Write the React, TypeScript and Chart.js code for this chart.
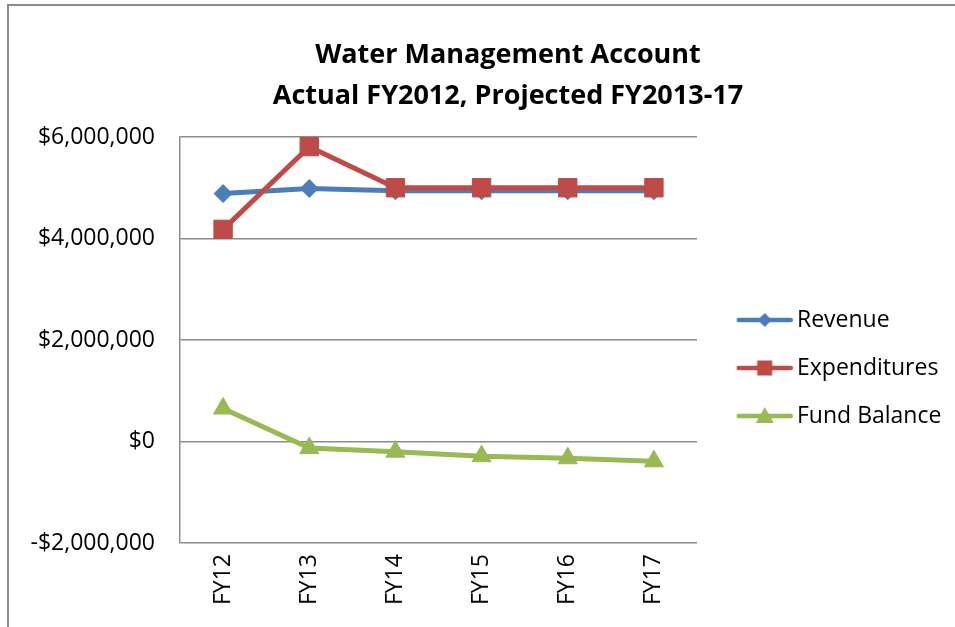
import React, { useEffect, useRef } from 'react';
import { Chart, registerables } from 'chart.js';

Chart.register(...registerables);

const categories = ['FY12', 'FY13', 'FY14', 'FY15', 'FY16', 'FY17'];
const revenue = [4885000, 4985000, 4940000, 4940000, 4940000, 4940000];
const expenditures = [4180000, 5810000, 5000000, 5000000, 5000000, 5000000];
const fundBalance = [650000, -130000, -200000, -290000, -330000, -390000];
const seriesNames = ['Revenue', 'Expenditures', 'Fund Balance'];
const seriesColors = ['#4A7EBB', '#BE4B48', '#98B954'];
const seriesMarkers = ['rectRot', 'rect', 'triangle'];
const titleLines = ['Water Management Account', 'Actual FY2012, Projected FY2013-17'];
const yMin = -2000000;
const yMax = 6000000;
const yStep = 2000000;

const FONT = '"Open Sans", "Liberation Sans", sans-serif';
const CW = 946;
const CH = 621;
const AREA = { left: 171, top: 131, right: 688, bottom: 537 };
const LEG_FONT = 23;
const LEG_PAD = 25;

function fmtMoney(v: number): string {
  const s = Math.abs(v).toLocaleString('en-US');
  return (v < 0 ? '-$' : '$') + s;
}

function makeIcon(color: string, style: string): HTMLCanvasElement {
  const c = document.createElement('canvas');
  c.width = 80;
  c.height = 24;
  const g = c.getContext('2d')!;
  g.strokeStyle = color;
  g.lineWidth = 4.5;
  g.lineCap = 'round';
  g.beginPath();
  g.moveTo(25, 12);
  g.lineTo(77, 12);
  g.stroke();
  g.fillStyle = color;
  const m = 51;
  const cy = 12;
  g.beginPath();
  if (style === 'rectRot') {
    g.moveTo(m, cy - 7);
    g.lineTo(m + 7, cy);
    g.lineTo(m, cy + 7);
    g.lineTo(m - 7, cy);
  } else if (style === 'rect') {
    g.rect(m - 7.5, cy - 7.5, 15, 15);
  } else {
    g.moveTo(m, cy - 9);
    g.lineTo(m + 9, cy + 7);
    g.lineTo(m - 9, cy + 7);
  }
  g.closePath();
  g.fill();
  return c;
}

const titlePlugin = {
  id: 'customTitle',
  afterDraw(chart: any) {
    const ctx = chart.ctx;
    ctx.save();
    ctx.fillStyle = '#000';
    ctx.font = `bold 27px ${FONT}`;
    ctx.textAlign = 'center';
    ctx.textBaseline = 'middle';
    titleLines.forEach((line, i) => {
      ctx.fillText(line, 499, 49 + i * 41);
    });
    ctx.restore();
  },
};

export default function App() {
  const ref = useRef<HTMLCanvasElement | null>(null);

  useEffect(() => {
    if (!ref.current) return;
    const mctx = document.createElement('canvas').getContext('2d')!;
    mctx.font = `${LEG_FONT}px ${FONT}`;
    const maxText = Math.max(...seriesNames.map((n) => mctx.measureText(n).width));
    const boxW = 100 - LEG_FONT / 2 - LEG_PAD;
    const legendW = LEG_PAD + boxW + LEG_FONT / 2 + maxText + 10;
    const padRight = Math.max(0, CW - AREA.right - legendW);
    const icons = seriesColors.map((c, i) => makeIcon(c, seriesMarkers[i]));
    const radii = [9, 13, 11];
    const values = [revenue, expenditures, fundBalance];
    const orders = [1, 0, 2];

    const chart = new Chart(ref.current, {
      type: 'line',
      data: {
        labels: categories,
        datasets: seriesNames.map((name, i) => ({
          label: name,
          data: values[i],
          borderColor: seriesColors[i],
          backgroundColor: seriesColors[i],
          pointBackgroundColor: seriesColors[i],
          pointBorderColor: seriesColors[i],
          pointBorderWidth: 1,
          pointStyle: seriesMarkers[i] as any,
          pointRadius: radii[i],
          borderWidth: 5,
          tension: 0,
          order: orders[i],
        })),
      },
      plugins: [titlePlugin],
      options: {
        responsive: false,
        animation: false,
        devicePixelRatio: 1,
        layout: { padding: { left: 0, right: padRight, top: AREA.top, bottom: 0 } },
        plugins: {
          tooltip: { enabled: false },
          title: { display: false },
          legend: {
            display: true,
            position: 'right',
            fullSize: false,
            maxWidth: 400,
            title: {
              display: true,
              text: '',
              font: { size: 10, lineHeight: 1 },
              padding: { top: 46, bottom: 0 },
            },
            labels: {
              color: '#000',
              font: { family: FONT, size: LEG_FONT },
              padding: LEG_PAD,
              usePointStyle: true,
              pointStyleWidth: boxW,
              sort: (a: any, b: any) => a.datasetIndex - b.datasetIndex,
              generateLabels: (ch: any) => {
                const items = Chart.defaults.plugins.legend.labels.generateLabels(ch);
                return items.map((it: any) => ({ ...it, pointStyle: icons[it.datasetIndex] }));
              },
            },
          },
        },
        scales: {
          x: {
            type: 'category',
            offset: true,
            grid: { display: false, drawTicks: false },
            border: { display: false },
            ticks: {
              color: '#000',
              font: { family: FONT, size: LEG_FONT },
              minRotation: 90,
              maxRotation: 90,
              autoSkip: false,
              padding: 11,
            },
            afterFit: (s: any) => {
              s.height = CH - AREA.bottom;
            },
          },
          y: {
            min: yMin,
            max: yMax,
            grid: { color: '#8C8C8C', lineWidth: 1.5, drawTicks: false },
            border: { display: true, color: '#8C8C8C', width: 1.5 },
            ticks: {
              stepSize: yStep,
              color: '#000',
              font: { family: FONT, size: LEG_FONT },
              padding: 25,
              callback: (v: any) => fmtMoney(Number(v)),
            },
            afterFit: (s: any) => {
              s.width = AREA.left;
            },
          },
        },
      },
    });
    return () => chart.destroy();
  }, []);

  return (
    <div
      style={{
        position: 'absolute',
        left: 7,
        top: 4,
        width: 948,
        height: 623,
        boxSizing: 'border-box',
        borderTop: '2px solid #8C8C8C',
        borderLeft: '2px solid #8C8C8C',
        background: '#fff',
        overflow: 'hidden',
      }}
    >
      <canvas ref={ref} width={CW} height={CH} style={{ display: 'block' }} />
    </div>
  );
}
